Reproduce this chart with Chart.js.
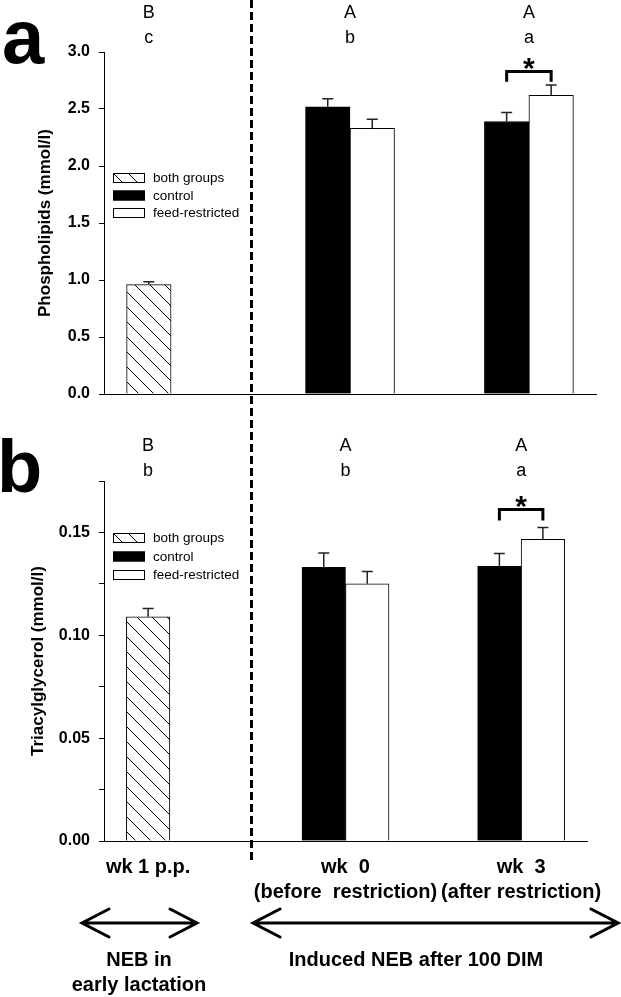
<!DOCTYPE html>
<html><head><meta charset="utf-8">
<script src="https://cdn.jsdelivr.net/npm/chart.js@4/dist/chart.umd.min.js"></script>
<style>
html,body{margin:0;padding:0;background:#fff;width:621px;height:997px;overflow:hidden;}
canvas{position:absolute;left:0;}
#ca{top:0;}
#cb{top:420px;}
</style></head><body>
<canvas id="ca" width="621" height="420"></canvas>
<canvas id="cb" width="621" height="577"></canvas>
<script>
// ---------- data ----------
const categories = ['wk 1 p.p.', 'wk  0', 'wk  3'];
const categoryNotes = ['', '(before  restriction)', '(after restriction)'];
const seriesNames = ['both groups', 'control', 'feed-restricted'];

const phBoth = [0.96, null, null];
const phBothSE = [0.025, null, null];
const phControl = [null, 2.52, 2.39];
const phControlSE = [null, 0.07, 0.08];
const phFeed = [null, 2.33, 2.62];
const phFeedSE = [null, 0.08, 0.09];
const phUpper = ['B', 'A', 'A'];
const phLower = ['c', 'b', 'a'];
const phTickLabels = ['0.0', '0.5', '1.0', '1.5', '2.0', '2.5', '3.0'];

const tgBoth = [0.109, null, null];
const tgBothSE = [0.004, null, null];
const tgControl = [null, 0.133, 0.1335];
const tgControlSE = [null, 0.007, 0.0063];
const tgFeed = [null, 0.125, 0.1466];
const tgFeedSE = [null, 0.006, 0.0058];
const tgUpper = ['B', 'A', 'A'];
const tgLower = ['b', 'b', 'a'];
const tgTickLabels = ['0.00', '0.05', '0.10', '0.15'];

// ---------- styling helpers ----------
const FONT = "Arial, 'Liberation Sans', Helvetica, sans-serif";
Chart.defaults.font.family = FONT;
Chart.defaults.color = '#000';

function hatchPattern() {
  const c = document.createElement('canvas');
  c.width = 15; c.height = 15;
  const g = c.getContext('2d');
  g.fillStyle = '#fff'; g.fillRect(0, 0, 15, 15);
  g.strokeStyle = '#000'; g.lineWidth = 1;
  g.beginPath();
  g.moveTo(-2, -2); g.lineTo(17, 17);
  g.moveTo(-2, 13); g.lineTo(2, 17);
  g.moveTo(13, -2); g.lineTo(17, 2);
  g.stroke();
  return document.createElement('canvas').getContext('2d').createPattern(c, 'repeat');
}
const HATCH = hatchPattern();

// "both groups" shares the left slot of each group with "control"
function makeDatasets(both, bothSE, ctrl, ctrlSE, feed, feedSE, thick) {
  const mk = (label, vals, se, bg, stack) => ({
    label, data: vals.map((y, i) => ({x: i, y})), errors: se, stack,
    backgroundColor: bg, borderColor: '#000', borderWidth: 1,
    barThickness: thick, grouped: true
  });
  return [
    mk(seriesNames[0], both, bothSE, HATCH, 'left'),
    mk(seriesNames[1], ctrl, ctrlSE, '#000', 'left'),
    mk(seriesNames[2], feed, feedSE, '#fff', 'right')
  ];
}

// centre of the drawn bars of one category
function groupCenter(chart, i) {
  let s = 0, n = 0;
  chart.data.datasets.forEach((d, di) => {
    if (d.data[i].y != null) { s += chart.getDatasetMeta(di).data[i].x; n++; }
  });
  return n ? s / n : chart.scales.x.getPixelForValue(i);
}

// ---------- annotation plugin ----------
const annot = {
  id: 'annot',
  afterDatasetsDraw(chart, args, o) {
    const ctx = chart.ctx, ys = chart.scales.y;
    ctx.save();
    // error bars
    chart.data.datasets.forEach((d, di) => {
      const meta = chart.getDatasetMeta(di);
      meta.data.forEach((el, i) => {
        const v = d.data[i].y, e = d.errors[i];
        if (v == null || e == null) return;
        const top = ys.getPixelForValue(v + e);
        ctx.strokeStyle = '#222'; ctx.lineWidth = 1.5;
        ctx.beginPath();
        ctx.moveTo(el.x, el.y); ctx.lineTo(el.x, top);
        ctx.moveTo(el.x - 5.5, top); ctx.lineTo(el.x + 5.5, top);
        ctx.stroke();
      });
    });
    // significance bracket
    const b = o.bracket;
    const xL = chart.getDatasetMeta(1).data[b.index].x;
    const xR = chart.getDatasetMeta(2).data[b.index].x;
    const yt = ys.getPixelForValue(b.top), yl = ys.getPixelForValue(b.leg);
    ctx.strokeStyle = '#000'; ctx.lineWidth = 3;
    ctx.beginPath();
    ctx.moveTo(xL, yl); ctx.lineTo(xL, yt); ctx.lineTo(xR, yt); ctx.lineTo(xR, yl);
    ctx.stroke();
    ctx.fillStyle = '#000';
    ctx.font = 'bold 30px ' + FONT;
    ctx.textAlign = 'center'; ctx.textBaseline = 'alphabetic';
    ctx.fillText('*', (xL + xR) / 2, yt + 6.5);
    // group letters
    ctx.font = '18px ' + FONT;
    o.upper.forEach((t, i) => {
      const x = groupCenter(chart, i);
      ctx.fillText(t, x, o.upperY);
      ctx.fillText(o.lower[i], x, o.lowerY);
    });
    // category labels under the x axis
    if (o.catLabels) {
      ctx.font = 'bold 20px ' + FONT;
      const base = chart.chartArea.bottom;
      categories.forEach((c, i) => {
        const x = groupCenter(chart, i);
        ctx.fillText(c, x, base + o.catLabels.line1);
        if (categoryNotes[i]) ctx.fillText(categoryNotes[i], x, base + o.catLabels.line2);
      });
    }
    // legend
    const lg = o.legend;
    chart.data.datasets.forEach((d, i) => {
      const cy = lg.y + i * lg.pitch;
      ctx.fillStyle = d.backgroundColor;
      ctx.fillRect(lg.x, cy - 5, 32, 10);
      ctx.strokeStyle = '#000'; ctx.lineWidth = 1;
      ctx.strokeRect(lg.x + 0.5, cy - 4.5, 31, 9);
      ctx.fillStyle = '#000';
      ctx.font = '13.5px ' + FONT;
      ctx.textAlign = 'left'; ctx.textBaseline = 'middle';
      ctx.fillText(d.label, lg.x + 40, cy + 0.5);
    });
    ctx.restore();
  },
  afterDraw(chart, args, o) {
    const ctx = chart.ctx;
    ctx.save();
    // panel letter
    ctx.fillStyle = '#000';
    ctx.font = 'bold ' + o.panel.size + 'px ' + FONT;
    ctx.textAlign = 'left'; ctx.textBaseline = 'alphabetic';
    ctx.fillText(o.panel.text, o.panel.x, o.panel.y);
    // dashed divider between phases
    ctx.strokeStyle = '#000'; ctx.lineWidth = 3;
    ctx.setLineDash([8, 4]);
    ctx.lineDashOffset = o.divider.phase;
    ctx.beginPath();
    ctx.moveTo(o.divider.x, o.divider.y0); ctx.lineTo(o.divider.x, o.divider.y1);
    ctx.stroke();
    ctx.setLineDash([]);
    // phase arrows and captions
    if (o.phases) {
      ctx.lineWidth = 3; ctx.lineCap = 'round';
      o.phases.forEach(p => {
        ctx.beginPath();
        ctx.moveTo(p.x0, p.y); ctx.lineTo(p.x1, p.y);
        ctx.moveTo(p.x0 + 27, p.y - 14); ctx.lineTo(p.x0, p.y); ctx.lineTo(p.x0 + 27, p.y + 14);
        ctx.moveTo(p.x1 - 27, p.y - 14); ctx.lineTo(p.x1, p.y); ctx.lineTo(p.x1 - 27, p.y + 14);
        ctx.stroke();
        ctx.font = 'bold 20px ' + FONT;
        ctx.textAlign = 'center'; ctx.textBaseline = 'alphabetic';
        p.text.forEach((t, k) => ctx.fillText(t, p.cx, p.ty + k * 25));
      });
    }
    ctx.restore();
  }
};

function baseOptions(cfg) {
  return {
    responsive: false, animation: false, devicePixelRatio: 1,
    layout: {padding: cfg.padding},
    plugins: {legend: {display: false}, tooltip: {enabled: false}, annot: cfg.annot},
    scales: {
      x: {type: 'linear', min: -0.375, max: 2.375, offset: false,
        grid: {display: false, offset: false}, ticks: {display: false},
        border: {display: true, color: '#000', width: 1},
        afterFit: s => { s.height = cfg.xHeight; }},
      y: {
        min: 0, max: cfg.ymax, stacked: false,
        afterFit: s => { s.width = 104; },
        border: {display: true, color: '#000', width: 1},
        grid: {display: true, drawOnChartArea: false, drawTicks: true, tickLength: 5, color: '#000', tickColor: '#000', tickWidth: 1},
        ticks: {stepSize: cfg.step, autoSkip: false, padding: 9, color: '#000',
          font: {size: 16, weight: 'bold'}, callback: cfg.tickCb},
        title: {display: true, text: cfg.title, color: '#000',
          font: {size: 17, weight: 'bold'}, padding: {top: cfg.titlePad, bottom: 0}}
      }
    }
  };
}

// ---------- panel a ----------
new Chart(document.getElementById('ca'), {
  type: 'bar',
  data: {datasets: makeDatasets(phBoth, phBothSE, phControl, phControlSE, phFeed, phFeedSE, 44.5)},
  options: baseOptions({
    padding: {left: 0, right: 25, top: 52, bottom: 26}, xHeight: 0,
    ymax: 3, step: 0.5,
    tickCb: v => phTickLabels[Math.round(v / 0.5)] ?? '',
    title: 'Phospholipids (mmol/l)', titlePad: 35,
    annot: {
      bracket: {index: 2, top: 2.83, leg: 2.74},
      upper: phUpper, lower: phLower, upperY: 18, lowerY: 43,
      legend: {x: 113, y: 178, pitch: 17.5},
      panel: {text: 'a', x: 2, y: 63, size: 76},
      divider: {x: 251.5, y0: 0, y1: 420, phase: 0}
    }
  }),
  plugins: [annot]
});

// ---------- panel b ----------
new Chart(document.getElementById('cb'), {
  type: 'bar',
  data: {datasets: makeDatasets(tgBoth, tgBothSE, tgControl, tgControlSE, tgFeed, tgFeedSE, 43.5)},
  options: baseOptions({
    padding: {left: 0, right: 34, top: 61, bottom: 0}, xHeight: 156,
    ymax: 0.175, step: 0.025,
    tickCb: v => { const k = Math.round(v / 0.025); return k % 2 === 0 ? (tgTickLabels[k / 2] ?? '') : ''; },
    title: 'Triacylglycerol (mmol/l)', titlePad: 28,
    annot: {
      bracket: {index: 2, top: 0.1612, leg: 0.1558},
      upper: tgUpper, lower: tgLower, upperY: 31, lowerY: 56,
      catLabels: {line1: 32, line2: 57},
      legend: {x: 113, y: 118, pitch: 18.5},
      panel: {text: 'b', x: -3, y: 72, size: 74},
      divider: {x: 251.5, y0: 0, y1: 440, phase: 0},
      phases: [
        {x0: 82, x1: 197, y: 503, cx: 139, ty: 546, text: ['NEB in', 'early lactation']},
        {x0: 253, x1: 618, y: 503, cx: 416, ty: 546, text: ['Induced NEB after 100 DIM']}
      ]
    }
  }),
  plugins: [annot]
});
</script>
</body></html>
